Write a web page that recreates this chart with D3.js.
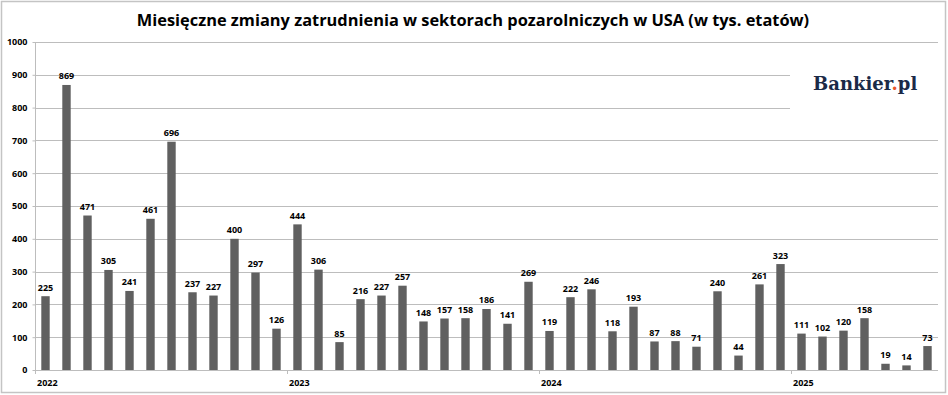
<!DOCTYPE html>
<html>
<head>
<meta charset="utf-8">
<script src="https://cdn.jsdelivr.net/npm/d3@7"></script>
<style>
  body { margin: 0; background: #fff; }
  svg text { font-family: "Open Sans", sans-serif; }
  .tick text { font-weight: bold; font-size: 9px; fill: #000; }
</style>
</head>
<body>
<div id="chart"></div>
<script>
// data: monthly nonfarm payroll changes, thousands (Jan 2022 - Jul 2025)
const months = [
  "2022-01","2022-02","2022-03","2022-04","2022-05","2022-06","2022-07","2022-08","2022-09","2022-10","2022-11","2022-12",
  "2023-01","2023-02","2023-03","2023-04","2023-05","2023-06","2023-07","2023-08","2023-09","2023-10","2023-11","2023-12",
  "2024-01","2024-02","2024-03","2024-04","2024-05","2024-06","2024-07","2024-08","2024-09","2024-10","2024-11","2024-12",
  "2025-01","2025-02","2025-03","2025-04","2025-05","2025-06","2025-07"
]
const values = [
  225, 869, 471, 305, 241, 461, 696, 237, 227, 400, 297, 126,
  444, 306, 85, 216, 227, 257, 148, 157, 158, 186, 141, 269,
  119, 222, 246, 118, 193, 87, 88, 71, 240, 44, 261, 323,
  111, 102, 120, 158, 19, 14, 73
]
const yearLabels = ["2022", "2023", "2024", "2025"]
const yTicks = [0, 100, 200, 300, 400, 500, 600, 700, 800, 900, 1000]
const title = "Miesięczne zmiany zatrudnienia w sektorach pozarolniczych w USA (w tys. etatów)"

const width = 948, height = 395
const margin = { top: 42, right: 10, bottom: 25, left: 35 }

const svg = d3.select("#chart").append("svg")
    .attr("width", width)
    .attr("height", height)

// outer frame
svg.append("rect")
    .attr("x", 1.5).attr("y", 1.5)
    .attr("width", 944).attr("height", 391)
    .attr("fill", "#fff")
    .attr("stroke", "#c4c4c4")
    .attr("stroke-width", 1.5)

const x = d3.scaleBand()
    .domain(months)
    .range([margin.left, width - margin.right])
    .paddingInner(0.6)
    .paddingOuter(0.3)

const y = d3.scaleLinear()
    .domain([0, 1000])
    .range([height - margin.bottom, margin.top])

// gridlines
svg.append("g")
    .selectAll("line")
    .data(yTicks.filter(d => d > 0))
    .enter()
    .append("line")
    .attr("x1", margin.left)
    .attr("x2", width - margin.right)
    .attr("y1", d => Math.round(y(d)) + 0.5)
    .attr("y2", d => Math.round(y(d)) + 0.5)
    .attr("stroke", "#bdbdbd")

// logo box covers gridlines
svg.append("rect")
    .attr("x", 790).attr("y", 52)
    .attr("width", 148).attr("height", 70)
    .attr("fill", "#fff")

const logo = svg.append("text")
    .attr("x", 813)
    .attr("y", 90)
    .style("font-family", "'DejaVu Serif', 'Liberation Serif', serif")
    .style("font-weight", "bold")
    .style("font-size", "18px")
    .attr("fill", "#1b2a47")
logo.append("tspan").text("Bankier")
logo.append("tspan").attr("fill", "#e8552b").text(".")
logo.append("tspan").text("pl")

// y axis
const yAxis = d3.axisLeft(y)
    .tickValues(yTicks)
    .tickFormat(d3.format("d"))
    .tickSize(3)
    .tickPadding(5)

const yAxisGroup = svg.append("g")
    .attr("transform", "translate(" + (margin.left + 0.5) + ",0)")
    .call(yAxis)
yAxisGroup.selectAll("line, path").attr("stroke", "#bdbdbd")
yAxisGroup.select(".domain").attr("d", "M0," + y(1000) + "V" + y(0))

// bars
svg.append("g")
    .selectAll("rect")
    .data(values)
    .enter()
    .append("rect")
    .attr("x", (d, i) => x(months[i]))
    .attr("y", d => y(d))
    .attr("width", x.bandwidth())
    .attr("height", d => y(0) - y(d))
    .attr("fill", "#606060")

// value labels
svg.append("g")
    .selectAll("text")
    .data(values)
    .enter()
    .append("text")
    .attr("x", (d, i) => x(months[i]) + x.bandwidth() / 2)
    .attr("y", d => y(d) - 5.5)
    .attr("text-anchor", "middle")
    .style("font-weight", "bold")
    .style("font-size", "9px")
    .text(d => d)

// x axis line
const step = x.step()
svg.append("line")
    .attr("x1", margin.left)
    .attr("x2", width - margin.right)
    .attr("y1", y(0) + 0.5)
    .attr("y2", y(0) + 0.5)
    .attr("stroke", "#bdbdbd")

// year ticks and labels at January boundaries
const yearStarts = yearLabels.map(yr => months.indexOf(yr + "-01"))
const xStart = i => x(months[i]) - (step - x.bandwidth()) / 2

svg.append("g")
    .selectAll("line")
    .data(yearStarts)
    .enter()
    .append("line")
    .attr("x1", i => Math.round(xStart(i)) + 0.5)
    .attr("x2", i => Math.round(xStart(i)) + 0.5)
    .attr("y1", y(0))
    .attr("y2", y(0) + 4)
    .attr("stroke", "#bdbdbd")

svg.append("g")
    .selectAll("text")
    .data(yearStarts)
    .enter()
    .append("text")
    .attr("x", i => xStart(i) + 2)
    .attr("y", 386)
    .style("font-weight", "bold")
    .style("font-size", "9px")
    .text((i, k) => yearLabels[k])

// title, fitted to the reference width
const titleText = svg.append("text")
    .attr("x", 473)
    .attr("y", 26)
    .attr("text-anchor", "middle")
    .style("font-weight", "bold")
    .style("font-size", "17px")
    .text(title)
const tw = titleText.node().getComputedTextLength()
titleText.style("font-size", (17 * 673 / tw) + "px")
</script>
</body>
</html>
